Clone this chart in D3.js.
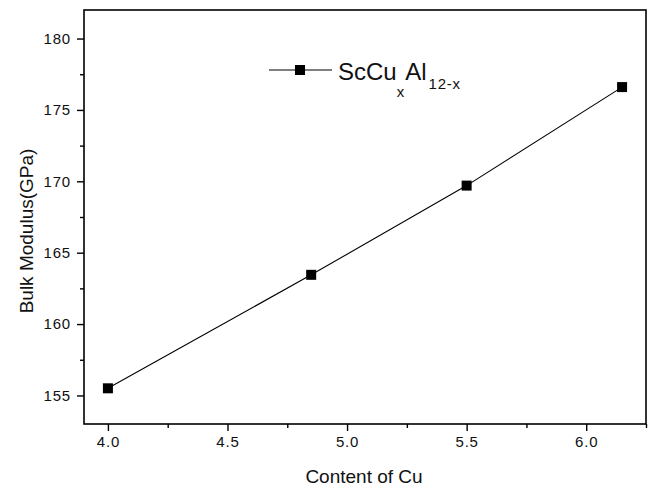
<!DOCTYPE html>
<html>
<head>
<meta charset="utf-8">
<script src="https://cdn.jsdelivr.net/npm/d3@7"></script>
<style>
  html, body { margin: 0; padding: 0; background: #fff; }
  svg { display: block; font-family: "Liberation Sans", Arial, Helvetica, sans-serif; }
</style>
</head>
<body>
<svg id="chart" width="651" height="487"></svg>
<script>
// Bulk modulus of ScCu_xAl_(12-x) versus Cu content
const cuContent = [4.0, 4.85, 5.5, 6.15];
const bulkModulus = [155.5, 163.45, 169.7, 176.6];
const xMajorTicks = [4.0, 4.5, 5.0, 5.5, 6.0];
const xMinorTicks = [4.25, 4.75, 5.25, 5.75, 6.25];
const yMajorTicks = [155, 160, 165, 170, 175, 180];
const yMinorTicks = [157.5, 162.5, 167.5, 172.5, 177.5];
const xTitle = "Content of Cu";
const yTitle = "Bulk Modulus(GPa)";

const svg = d3.select("#chart");
const plot = { left: 84, right: 646, top: 10, bottom: 424 };

const x = d3.scaleLinear().domain([3.9, 6.25]).range([plot.left, plot.right]);
const y = d3.scaleLinear().domain([153, 182]).range([plot.bottom, plot.top]);

// frame
svg.append("rect")
  .attr("x", plot.left).attr("y", plot.top)
  .attr("width", plot.right - plot.left).attr("height", plot.bottom - plot.top)
  .attr("fill", "none").attr("stroke", "#000").attr("stroke-width", 1.6);

// bottom axis: major ticks with labels, then minor ticks
svg.append("g").attr("transform", `translate(0,${plot.bottom})`)
  .call(d3.axisBottom(x).tickValues(xMajorTicks).tickFormat(d3.format(".1f"))
    .tickSize(7).tickPadding(5));
svg.append("g").attr("transform", `translate(0,${plot.bottom})`)
  .call(d3.axisBottom(x).tickValues(xMinorTicks).tickFormat("").tickSize(4));

// left axis
svg.append("g").attr("transform", `translate(${plot.left},0)`)
  .call(d3.axisLeft(y).tickValues(yMajorTicks).tickFormat(d3.format("d"))
    .tickSize(7).tickPadding(6));
svg.append("g").attr("transform", `translate(${plot.left},0)`)
  .call(d3.axisLeft(y).tickValues(yMinorTicks).tickFormat("").tickSize(4));

svg.selectAll(".domain").remove();
svg.selectAll(".tick line").attr("stroke", "#000").attr("stroke-width", 1.4);
svg.selectAll(".tick text").attr("fill", "#111").attr("font-size", 15)
  .attr("letter-spacing", 0.8)
  .attr("font-family", "\"Liberation Sans\", Arial, sans-serif");

// axis titles
svg.append("text")
  .attr("x", (plot.left + plot.right) / 2 - 1).attr("y", 483)
  .attr("text-anchor", "middle").attr("font-size", 19).attr("fill", "#111")
  .text(xTitle);
svg.append("text")
  .attr("transform", `translate(33,231) rotate(-90)`)
  .attr("text-anchor", "middle").attr("font-size", 19).attr("fill", "#111")
  .text(yTitle);

// data line and square markers
const pts = cuContent.map((c, i) => [c, bulkModulus[i]]);
svg.append("path")
  .datum(pts)
  .attr("d", d3.line().x(d => x(d[0])).y(d => y(d[1])))
  .attr("fill", "none").attr("stroke", "#000").attr("stroke-width", 1.1);

const sq = 10;
svg.selectAll("rect.pt").data(pts).enter().append("rect")
  .attr("class", "pt")
  .attr("x", d => x(d[0]) - sq / 2).attr("y", d => y(d[1]) - sq / 2)
  .attr("width", sq).attr("height", sq).attr("fill", "#000");

// legend
const lg = svg.append("g");
lg.append("line").attr("x1", 269).attr("x2", 332).attr("y1", 70).attr("y2", 70)
  .attr("stroke", "#000").attr("stroke-width", 1.2);
lg.append("rect").attr("x", 295).attr("y", 65).attr("width", sq).attr("height", sq).attr("fill", "#000");
const lt = lg.append("text").attr("x", 338).attr("y", 80).attr("font-size", 24).attr("fill", "#111");
lt.append("tspan").text("ScCu");
lt.append("tspan").attr("font-size", 15).attr("dy", 17).text("x");
lt.append("tspan").attr("dy", -17).attr("dx", 1).text("Al");
lt.append("tspan").attr("font-size", 15).attr("letter-spacing", 0.8).attr("dy", 9).attr("dx", 2).text("12-x");
</script>
</body>
</html>
